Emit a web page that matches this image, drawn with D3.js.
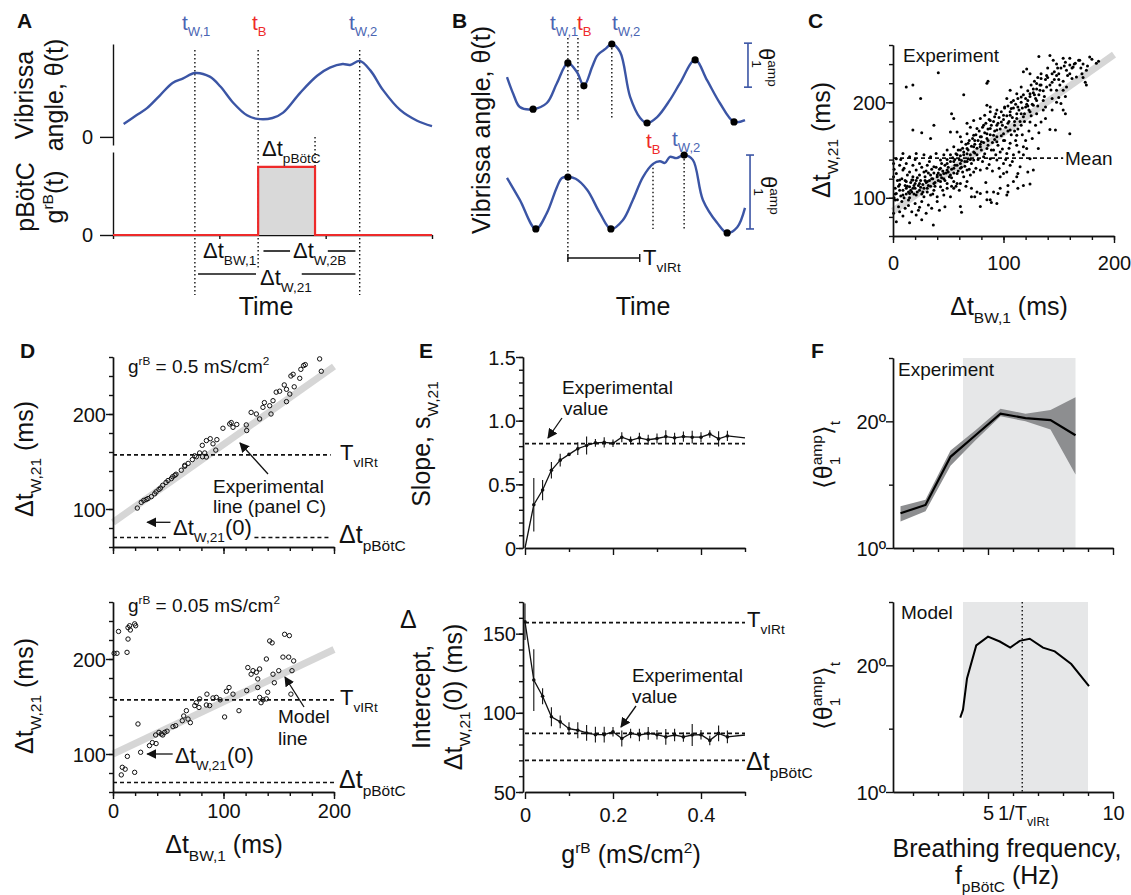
<!DOCTYPE html>
<html>
<head>
<meta charset="utf-8">
<script src="https://cdn.jsdelivr.net/npm/d3@7"></script>
<style>
  body { margin: 0; background: #fff; }
  svg { display: block; }
  text { font-family: "Liberation Sans", Arial, Helvetica, sans-serif; }
</style>
</head>
<body>
<div id="art"></div>
<script>
// ---------- data ----------
// panel A: schematic whisk trace (time ms, angle deg) and pBotC pulse
const traceA = [[10,1.44],[22,2.4],[32,3.2],[44,4.6],[56,6.0],[66,6.5],[77,7.1],[91,6.7],[101,5.6],[113,3.8],[126,2.4],[136,2.0],[150,2.1],[160,2.7],[176,4.9],[192,6.8],[204,7.7],[216,8.1],[223,8.0],[232,8.45],[242,7.4],[254,5.2],[270,3.0],[286,1.8],[300,1.2]];
const marksA = { tW1: 77, tB: 136.5, tEnd: 190, tW2: 232 };
const pulseA = [[0,0],[136.5,0],[136.5,1],[190,1],[190,0],[300,0]];

// panel B: two traces (time ms, angle deg, peak/trough flag)
const traceBTop = [[0,10.9,0],[14,7,0],[28,4.1,0],[57,3.6,1],[87,5.0,0],[109,9.5,0],[133,14.1,1],[153,12.0,0],[168,8.9,1],[186,13.2,0],[196,15.6,0],[203,16.4,0],[215,17.3,0],[229,18.4,1],[247,16.6,0],[269,6.4,0],[291,1.6,0],[306,0.45,1],[328,1.8,0],[356,5.7,0],[378,9.5,0],[411,14.8,1],[437,10.2,0],[465,5.0,0],[496,0.7,1],[520,1.1,0]];
const traceBBot = [[0,13.2,0],[28,8.2,0],[63,1.6,1],[87,5.2,0],[109,11.1,0],[120,13.2,0],[133,13.4,1],[150,13.0,0],[175,10.5,0],[203,5.2,0],[227,1.6,1],[253,3.6,0],[275,8.2,0],[297,13.4,0],[319,16.4,0],[334,17.0,0],[345,16.6,0],[356,18.0,0],[370,17.7,0],[387,18.4,1],[406,17.3,0],[428,8.2,0],[459,3.0,0],[481,0.7,1],[503,2.0,0],[520,6.4,0]];
const marksB = { tW1: 133, tB1: 155, tW2a: 229, tB2: 319, tW2b: 387, TvIRt: 157 };

// panel C: experimental scatter (dt_BW,1 ms, dt_W,21 ms)
const cScatter = [
[12,216],[18,218],[41,231],[25,204],[64,208],[85,220],[86,222],[18,171],[26,168],[34,162],[37,176],[53,188],[55,183],
[36.5,71.5],[15,74],[26,77],[3,75],[9,81],[62,85],[61,91],[71,101],[74,101],[85,98],[94,94],[95,104.6],[103,103],[113,110],[112,122],[122,127],[104,113],[76,106],[79,91],[88,98],[89,95],[97,122],[100,125.5],[115,132.5],[121,151.6],[131.5,151.6],[154,192],[156,188],[160,167],[147,171],[142,171.5],[152,198.7],[138,183],[136,192],
[132,248],[142,249],[154,246],[178,247.5],[169,244],[184,241],[160,239],[163,237],[157,233.6],[149,236],[175,233.6],[171,230],[166,226.5],[174,221],[175,218],[148,228],[139,228],[134,225],[124,230],[121,235],[118,232],[130,219.6],[144,221],[151,218],[157,216],[154,212.6],[148,212.6],[139,216],[133,212.6],[127,214],[124,209],[116,216],[112,209],[106,212.6],[103,204],[109,202],[116,205.6],[122,202],[130,202],[136,202],[144,204],[148,200],[127,197],[120,195],[113,195],[107,193.5],[101,195],[94,192],[88,195],[88,190],[85,197],[92,185],[100,186.5],[106,186.5],[112,183],[118,185],[124,190],[130,188],[134,179.5],[124,179.5],[116,176],[110,176],[104,178],[98,179.5],[94,176],[88,181],[83,186.5],[79,183],[73,181],[67,178],[70,174],[76,172.6],[82,176],[88,172.6],[94,171],[100,167],[106,171],[112,165.6],[91,165.6],[85,167],[79,164],[73,165.6],[67,167],[61,164],[58,169],[52,169],[62,158.6],[68,157],[74,160],[80,158.6],[86,160],[94,158.6],[100,160],[106,157],[112,155],[118,153.5],[73,153.5],[79,153.5],[85,151.6],[91,150],[97,148],[103,146.5],[109,145],[67,151.6],[61,150],[55,153.5],[49,150],[46,145],[52,145],[58,145],[64,145],[70,145],[76,145],[82,143],[88,141],[94,139.5],[100,136],[106,134],[73,139.5],[67,138],[61,136],[55,138],[49,136],[43,139.5],[39,146.5],[34,143],[28,145],[21,146.5],[15,143],[9,146.5],[3,141],[0.5,136],[6,134],[12,136],[18,134],[24,136],[31,134],[37,132.5],[43,131],[49,129],[55,131],[61,131],[67,129],[73,127],[79,129],[85,131],[46,125.5],[52,124],[58,125.5],[64,122],[70,124],[40,122],[34,124],[28,127],[21,129],[15,127],[9,129],[3,125.5],[0.5,122],[6,118.6],[12,117],[18,118.6],[24,115],[31,117],[37,115],[43,117],[49,115],[55,117],[61,115],[67,117],[43,111.6],[49,110],[55,110],[58,115],[37,108],[31,110],[24,108],[18,110],[12,110],[6,108],[2,110],[3,104.6],[9,103],[15,104.6],[21,103],[28,101],[34,103],[40,101],[46,103],[52,101],[15,111.6],[14,106],[11,113],[20,115],[17,118.6],[2,97.6],[8,96],[14,97.6],[20,94],[26,96],[32,92.4],[5,90.7],[11,89],[17,85.5],[23,87],[0.5,83.7],[6,85.5],[35,89],[42,87],[47,90.7],[30,83.7],[21,82],
[118,145],[124,141],[113,125.5],[103,127],[109,117],[118,113],[104,106],[97,110],[91,106],[85,106],[79,104.6],[71,110],[124,114.5],[127,129],
[5,112],[8,120],[10,100],[13,124],[16,108],[19,113],[22,121],[25,111],[27,106],[29,118],[32,113],[35,120],[38,112],[41,126],[44,121],[47,118],[50,127],[53,121],[56,134],[59,128],[62,139],[65,133],[68,141],[71,136],[74,147],[77,140],[80,150],[83,146],[86,155],[89,150],[92,161],[95,155],[98,165],[101,160],[104,170],[107,166],[110,180],[113,172],[116,188],[119,180],[122,196],[125,186],[128,208],[131,196],[134,218],[137,206],[140,226],[143,213],[146,232],[150,224],[155,238],[160,230],[165,241],[170,236],[30,128],[36,104],[45,108],[57,112],[63,127],[69,130],[75,131],[81,138],[87,135],[93,145],[99,151],[105,152],[111,160],[117,166],[123,170],[129,176],[20,140],[26,132],[33,138],[10,131],[7,140],[4,118],[1,100],[1,130],[14,92],[24,90],[40,96],[53,112],[60,108],[66,112],[84,116],[90,128],[96,131],[102,140],[108,138],[114,148],[120,160],[126,162],[132,168],[138,195],[144,192],[150,205],[156,206],[162,225],[145,244],[172,226],[180,245],[186,243],
[2,104],[4,98],[6,114],[7,102],[9,108],[11,118],[12,104],[13,112],[15,100],[16,116],[17,106],[18,122],[19,104],[20,110],[21,118],[22,106],[23,113],[24,124],[25,118],[26,104],[27,114],[28,110],[29,122],[30,116],[31,106],[32,126],[33,118],[34,112],[35,130],[36,120],[37,126],[38,116],[39,132],[40,124],[41,118],[42,130],[43,124],[44,136],[45,128],[46,120],[47,134],[48,126],[49,140],[50,132],[51,122],[52,138],[53,130],[54,142],[55,126],[56,140],[57,146],[58,134],[59,150],[60,140],[61,144],[62,132],[63,152],[64,148],[65,138],[66,156],[67,146],[68,150],[69,160],[70,140],[71,154],[72,162],[73,148],[74,156],[75,166],[76,152],[77,160],[78,170],[79,156],[80,164],[81,174],[82,158],[83,168],[84,178],[85,162],[86,172],[87,182],[88,166],[89,176],[90,158],[91,180],[92,170],[93,188],[94,164],[95,178],[96,184],[97,172],[98,190],[99,176],[100,182],[101,194],[102,174],[103,186],[104,196],[105,180],[106,190],[107,200],[108,184],[109,194],[110,170],[111,198],[112,188],[113,204],[114,192],[115,180],[116,200],[117,194],[118,208],[119,188],[120,204],[121,198],[122,212],[123,192],[124,206],[125,218],[126,198],[127,210],[128,222],[129,204],[130,214],[131,226],[132,208],[133,218],[134,230],[136,212],[138,224],[140,236],[142,218],[144,230],[146,224],[148,240],[150,230],[152,236],[154,222],[156,242],[158,228],[160,246],[162,236],[164,240],[168,244],[172,240],[176,238]
];
const expLine = { intercept: 86, slope: 0.82 };
const meanC = 141.5;

// panel D: model scatter for two grB values
const dTop = [[22,101],[25.6,107],[27.8,109],[31.7,111],[34.7,113],[37.7,116],[41.6,120.6],[45,125],[48,128],[52.8,132],[57,136.6],[61.8,140.8],[64.9,145],[68,148],[71.8,152],[75.4,155],[78.4,159],[81,155],[84.5,154.7],[80.8,167],[84.5,172],[88,174],[94,173],[93,162],[99.5,185],[105.6,189.5],[108.6,186],[112,189],[120.6,188.5],[121,182.6],[125,201.7],[129.7,200],[132.7,194.8],[135.7,207],[137,212],[141.8,208.7],[143,200],[144.8,214],[147.7,223],[150.8,224],[155,230.6],[157,213],[157,226],[161,240],[163,241.8],[164,228.6],[169,237.6],[170,247],[172.5,251],[174,252],[187,258],[188.5,245],[54,134],[49.8,130],[30,110],[39,118],[43,122],[56,135.5],[65,146],[73.9,156],[83,159],[90.5,168.6],[107,191],[160,221]];
const dBot = [[1,206],[3.6,206],[5,229],[12.7,207],[13.6,233],[13.6,221],[15,235],[15.7,230.5],[19.6,237],[20.5,235],[7.5,78],[8.4,86],[11,84],[13,97.5],[19.6,80.7],[22.6,131.6],[25,101.8],[33,108.8],[35.6,112],[39,111],[38.6,120],[41.6,122.8],[43.7,121],[45,120],[46.8,122.8],[48.9,124],[54.3,128.8],[56.7,129.8],[62.7,135],[64,140],[66.4,145.6],[67.9,136.8],[70,133],[74,151],[75.4,154],[77.8,149],[78.4,158],[84.5,151.6],[85,163],[87.5,151],[90.5,159],[93.5,159.6],[97,157],[101,139],[102.6,166],[105,170],[108.6,163],[114,145.6],[121,166.7],[122,191],[125,184],[126.7,187.7],[129.7,186],[131,179],[131,170],[132.7,189.5],[132.7,159.6],[134,154],[135.7,157],[138.8,158],[138.8,200],[140,165],[141.8,219],[144,217],[144.8,184],[146,175],[150,187.7],[153.8,202],[155.3,226],[159,202],[159.6,224.6],[161,163],[162,187.7],[163.5,198]];
const modelLine = { intercept: 100, slope: 0.55 };
const TvIRt = 157, dtPBotC = 70;

// panel E: slope and intercept vs grB
const gVals = [0,0.02,0.04,0.06,0.08,0.10,0.12,0.14,0.16,0.18,0.20,0.22,0.24,0.26,0.28,0.30,0.32,0.34,0.36,0.38,0.40,0.42,0.44,0.46,0.50];
const slope = [0,0.34,0.455,0.61,0.69,0.735,0.78,0.805,0.826,0.83,0.823,0.87,0.845,0.865,0.85,0.86,0.875,0.865,0.875,0.87,0.87,0.895,0.857,0.88,0.865];
const slopeErr = [0,0.21,0.08,0.065,0.05,0.01,0.05,0.07,0.03,0.04,0.03,0.04,0.03,0.04,0.04,0.04,0.05,0.04,0.04,0.05,0.04,0.03,0.06,0.04,0];
const intercept = [157.5,120.7,110.5,97.5,94.3,90,89,87.3,86.2,86.2,88,83.8,87,86,87,86.2,84.8,86,84.8,86,86.2,82.6,87,84.8,86];
const interceptErr = [11.5,19.5,5,6,4,4,5,5,5,5,3,5,3,4,4,3,5,4,3,7,3,3,5,4,0];
const expSlope = 0.82, expIntercept = 87;

// panel F: amplitude vs breathing frequency
const fExp = [1.5,2.5,3.5,4.5,5.5,6.5,7.5,8.5];
const ampExp = [12.74,13.4,17.2,18.9,20.6,20.26,20.1,18.9];
const ampExpLo = [12.1,12.9,16.5,18.5,20.4,20.0,19.35,15.8];
const ampExpHi = [13.3,13.8,17.7,19.3,21.0,20.6,20.9,21.9];
const fMod = [3.89,4.0,4.16,4.53,5.0,5.47,5.89,6.27,6.67,7.2,7.67,8.33,9.04];
const ampMod = [15.87,16.5,18.96,21.57,22.27,21.88,21.4,21.93,22.1,21.4,21.1,20.1,18.36];
const bandExp = [4, 8.5], bandMod = [4, 9.0];

// ---------- style ----------
const BLUE = '#3b55a5', BLUE_T = '#4a65b3', RED = '#ee2a2a';
const TICK = 20, LAB = 25, ANN = 19;

const svg = d3.select('#art').append('svg')
  .attr('width', 1131).attr('height', 895)
  .style('background', '#fff');

svg.append('defs').append('marker')
  .attr('id', 'arr').attr('viewBox', '0 0 10 10')
  .attr('refX', 9).attr('refY', 5)
  .attr('markerWidth', 10).attr('markerHeight', 10)
  .attr('markerUnits', 'userSpaceOnUse')
  .attr('orient', 'auto')
  .append('path').attr('d', 'M0,0 L10,5 L0,10 z').attr('fill', '#111');

// text with sub/superscripts; "_x" sub, "^x" sup, "&" prefix stacks over previous piece
function rich(g, x, y, parts, o = {}) {
  const size = o.size || ANN;
  const t = g.append('text')
    .attr('transform', `translate(${x},${y})` + (o.rotate ? ` rotate(${o.rotate})` : ''))
    .attr('text-anchor', o.anchor || 'start')
    .style('font-size', size + 'px')
    .style('fill', o.fill || '#111');
  if (o.bold) t.style('font-weight', 'bold');
  let shift = 0, prev = null;
  parts.forEach(p => {
    let stack = false;
    if (p[0] === '&') { stack = true; p = p.slice(1); }
    let s = 0, fs = size, txt = p;
    if (p[0] === '_') { txt = p.slice(1); s = size * 0.3; fs = size * 0.62; }
    else if (p[0] === '^') { txt = p.slice(1); s = -size * 0.42; fs = size * 0.62; }
    const ts = t.append('tspan').attr('dy', s - shift).style('font-size', fs + 'px').text(txt);
    if (stack && prev) ts.attr('dx', -prev.node().getComputedTextLength());
    shift = s; prev = ts;
  });
  return t;
}

function styleAxis(a, size) {
  a.style('font-size', size + 'px');
  a.selectAll('path,line').attr('stroke', '#111').attr('stroke-width', 1.4);
  a.selectAll('text').attr('fill', '#111');
}

function yAxis(g, y, x0, major, minor, fmt) {
  const a1 = g.append('g').attr('transform', `translate(${x0},0)`)
    .call(d3.axisLeft(y).tickValues(minor).tickSize(4).tickFormat('').tickSizeOuter(0));
  styleAxis(a1, TICK);
  const a2 = g.append('g').attr('transform', `translate(${x0},0)`)
    .call(d3.axisLeft(y).tickValues(major).tickSize(7).tickPadding(0).tickFormat(fmt).tickSizeOuter(0));
  styleAxis(a2, TICK);
  a2.selectAll('text').attr('dy', '0.35em');
}

function xAxis(g, x, y0, major, minor, fmt, baseOff) {
  const a1 = g.append('g').attr('transform', `translate(0,${y0})`)
    .call(d3.axisBottom(x).tickValues(minor).tickSize(4).tickFormat('').tickSizeOuter(0));
  styleAxis(a1, TICK);
  const pad = baseOff ? baseOff - 7 - 0.71 * TICK : 3;
  const a2 = g.append('g').attr('transform', `translate(0,${y0})`)
    .call(d3.axisBottom(x).tickValues(major).tickSize(7).tickPadding(pad).tickFormat(fmt).tickSizeOuter(0));
  styleAxis(a2, TICK);
}

function dashed(g, x1, x2, y1, y2, dash) {
  g.append('line').attr('x1', x1).attr('x2', x2).attr('y1', y1).attr('y2', y2)
    .attr('stroke', '#111').attr('stroke-width', dash === 'dot' ? 1.4 : 1.6)
    .attr('stroke-dasharray', dash === 'dot' ? '1.5,2.5' : '4,3');
}

function arrow(g, x1, y1, x2, y2) {
  g.append('line').attr('x1', x1).attr('y1', y1).attr('x2', x2).attr('y2', y2)
    .attr('stroke', '#111').attr('stroke-width', 1.3).attr('marker-end', 'url(#arr)');
}

function panelLetter(x, y, s) {
  rich(svg, x, y, [s], { size: 21, bold: true });
}

const none = () => '';

// ================= Panel A =================
{
  const g = svg.append('g');
  const x = d3.scaleLinear().domain([0, 300]).range([113, 432]);
  const y = d3.scaleLinear().domain([-0.9, 10.33]).range([145, 44]);
  const yg = d3.scaleLinear().domain([0, 1.22]).range([235, 152]);

  // guides
  dashed(g, x(marksA.tW1), x(marksA.tW1), 50, 295, 'dot');
  dashed(g, x(marksA.tB), x(marksA.tB), 50, 268, 'dot');
  dashed(g, x(marksA.tEnd), x(marksA.tEnd), 137, yg(1), 'dot');
  dashed(g, x(marksA.tW2), x(marksA.tW2), 50, 295, 'dot');

  // axes
  const ay = g.append('g').attr('transform', 'translate(113,0)')
    .call(d3.axisLeft(y).tickValues([0]).tickSize(13).tickPadding(7).tickFormat(d => d).tickSizeOuter(0));
  styleAxis(ay, TICK);
  const ag = g.append('g').attr('transform', 'translate(113,0)')
    .call(d3.axisLeft(yg).tickValues([0]).tickSize(13).tickPadding(7).tickFormat(d => d).tickSizeOuter(0));
  styleAxis(ag, TICK);
  const ax = g.append('g').attr('transform', 'translate(0,235)')
    .call(d3.axisBottom(x).tickValues([0, 100, 200, 300]).tickSize(4).tickFormat('').tickSizeOuter(0));
  styleAxis(ax, TICK);

  g.append('path').datum(traceA)
    .attr('d', d3.line().x(d => x(d[0])).y(d => y(d[1])).curve(d3.curveCatmullRom))
    .attr('fill', 'none').attr('stroke', BLUE).attr('stroke-width', 2.4);

  g.append('rect').attr('x', x(marksA.tB)).attr('y', yg(1))
    .attr('width', x(marksA.tEnd) - x(marksA.tB)).attr('height', yg(0) - yg(1))
    .attr('fill', '#d9d9d9');
  g.append('path').datum(pulseA)
    .attr('d', d3.line().x(d => x(d[0])).y(d => yg(d[1])))
    .attr('fill', 'none').attr('stroke', RED).attr('stroke-width', 2.2);

  // interval bars
  const hl = (a, b, yy) => g.append('line').attr('x1', x(a)).attr('x2', x(b)).attr('y1', yy).attr('y2', yy)
    .attr('stroke', '#111').attr('stroke-width', 1.6);
  hl(marksA.tB + 5, marksA.tB + 30, 251);
  hl(marksA.tW2 - 30, marksA.tW2 - 4, 251);
  hl(marksA.tW1 + 3, marksA.tB - 2, 274);
  hl(marksA.tB + 41, marksA.tW2 - 4, 274);

  rich(g, 182, 30, ['t', '_W,1'], { fill: BLUE_T, size: 21 });
  rich(g, 252, 30, ['t', '_B'], { fill: RED, size: 21 });
  rich(g, 349, 30, ['t', '_W,2'], { fill: BLUE_T, size: 21 });
  rich(g, 262, 156, ['Δt', '_pBötC'], { size: 22 });
  rich(g, 203, 258, ['Δt', '_BW,1'], { size: 22 });
  rich(g, 293, 258, ['Δt', '_W,2B'], { size: 22 });
  rich(g, 260, 285, ['Δt', '_W,21'], { size: 22 });
  rich(g, 266, 315, ['Time'], { size: LAB, anchor: 'middle' });

  rich(g, 33, 95, ['Vibrissa'], { size: LAB, anchor: 'middle', rotate: -90 });
  rich(g, 63, 95, ['angle, θ(t)'], { size: LAB, anchor: 'middle', rotate: -90 });
  rich(g, 34, 197, ['pBötC'], { size: LAB, anchor: 'middle', rotate: -90 });
  rich(g, 63, 197, ['g', '^rB', '(t)'], { size: LAB, anchor: 'middle', rotate: -90 });
  panelLetter(17, 28, 'A');
}

// ================= Panel B =================
{
  const g = svg.append('g');
  const x = d3.scaleLinear().domain([0, 520]).range([507, 745]);
  const y1 = d3.scaleLinear().domain([0, 20]).range([125, 37]);
  const y2 = d3.scaleLinear().domain([0, 20]).range([236, 148]);

  dashed(g, x(marksB.tW1), x(marksB.tW1), 38, 260, 'dot');
  dashed(g, x(marksB.tB1), x(marksB.tB1), 38, y1(1.2), 'dot');
  dashed(g, x(marksB.tW2a), x(marksB.tW2a), y1(18.4), y1(1.6), 'dot');
  dashed(g, x(marksB.tB2), x(marksB.tB2), y2(16.4), y2(1.6), 'dot');
  dashed(g, x(marksB.tW2b), x(marksB.tW2b), y2(18.4), y2(1.6), 'dot');

  [[traceBTop, y1], [traceBBot, y2]].forEach(([tr, yy]) => {
    g.append('path').datum(tr)
      .attr('d', d3.line().x(d => x(d[0])).y(d => yy(d[1])).curve(d3.curveCatmullRom))
      .attr('fill', 'none').attr('stroke', BLUE).attr('stroke-width', 2.4);
    g.selectAll(null).data(tr.filter(d => d[2])).enter().append('circle')
      .attr('cx', d => x(d[0])).attr('cy', d => yy(d[1])).attr('r', 3.6).attr('fill', '#000');
  });

  // T_vIRt bar
  const bx1 = x(marksB.tW1), bx2 = x(marksB.tW1 + marksB.TvIRt);
  g.append('line').attr('x1', bx1).attr('x2', bx2).attr('y1', 258).attr('y2', 258).attr('stroke', '#111').attr('stroke-width', 1.6);
  [bx1, bx2].forEach(v => g.append('line').attr('x1', v).attr('x2', v).attr('y1', 254).attr('y2', 262).attr('stroke', '#111').attr('stroke-width', 1.4));
  rich(g, 643, 265, ['T', '_vIRt'], { size: 22 });

  // amplitude bars
  const ampBar = (xx, yy, a, b) => {
    g.append('line').attr('x1', xx).attr('x2', xx).attr('y1', yy(a)).attr('y2', yy(b)).attr('stroke', BLUE).attr('stroke-width', 1.6);
    [a, b].forEach(v => g.append('line').attr('x1', xx - 4).attr('x2', xx + 4).attr('y1', yy(v)).attr('y2', yy(v)).attr('stroke', BLUE).attr('stroke-width', 1.6));
  };
  ampBar(x(526.5), y1, 8.6, 18.6);
  ampBar(x(531), y2, 1.6, 18.4);
  rich(g, 759, 48, ['θ', '_1', '&^amp'], { size: 22, rotate: 90 });
  rich(g, 761, 176, ['θ', '_1', '&^amp'], { size: 22, rotate: 90 });

  rich(g, 550, 30, ['t', '_W,1'], { fill: BLUE_T, size: 21 });
  rich(g, 577, 30, ['t', '_B'], { fill: RED, size: 21 });
  rich(g, 612, 30, ['t', '_W,2'], { fill: BLUE_T, size: 21 });
  rich(g, 646, 148, ['t', '_B'], { fill: RED, size: 21 });
  rich(g, 672, 146, ['t', '_W,2'], { fill: BLUE_T, size: 21 });

  rich(g, 643, 315, ['Time'], { size: LAB, anchor: 'middle' });
  rich(g, 490, 130, ['Vibrissa angle, θ(t)'], { size: LAB, anchor: 'middle', rotate: -90 });
  panelLetter(452, 28, 'B');
}

// ================= Panel C =================
{
  const g = svg.append('g');
  const x = d3.scaleLinear().domain([0, 200]).range([893, 1114]);
  const y = d3.scaleLinear().domain([60, 260]).range([236, 45]);

  g.append('line').attr('x1', x(0)).attr('x2', x(200))
    .attr('y1', y(expLine.intercept)).attr('y2', y(expLine.intercept + expLine.slope * 200))
    .attr('stroke', '#d6d6d6').attr('stroke-width', 7);
  dashed(g, x(0), x(154), y(meanC), y(meanC));
  g.selectAll(null).data(cScatter).enter().append('circle')
    .attr('cx', d => x(d[0])).attr('cy', d => y(d[1])).attr('r', 1.5).attr('fill', '#000');

  yAxis(g, y, 893, [100, 200], d3.range(60, 261, 20), d => d);
  xAxis(g, x, 236, [0, 100, 200], d3.range(0, 201, 20), d => d, 34);

  rich(g, 903, 62, ['Experiment'], { size: ANN });
  rich(g, 1065, 165, ['Mean'], { size: ANN });
  rich(g, 830, 140, ['Δt', '_W,21', ' (ms)'], { size: LAB, anchor: 'middle', rotate: -90 });
  rich(g, 1009, 315, ['Δt', '_BW,1', ' (ms)'], { size: LAB, anchor: 'middle' });
  panelLetter(808, 28, 'C');
}

// ================= Panel D =================
{
  const g = svg.append('g');
  const x = d3.scaleLinear().domain([0, 200]).range([113, 334]);
  const yT = d3.scaleLinear().domain([60, 260]).range([547, 357]);
  const yB = d3.scaleLinear().domain([60, 260]).range([792, 602]);

  // top
  g.append('line').attr('x1', x(0)).attr('x2', x(200))
    .attr('y1', yT(expLine.intercept)).attr('y2', yT(expLine.intercept + expLine.slope * 200))
    .attr('stroke', '#d6d6d6').attr('stroke-width', 7);
  dashed(g, x(0), x(197), yT(TvIRt), yT(TvIRt));
  dashed(g, x(0), x(50), yT(dtPBotC), yT(dtPBotC));
  dashed(g, x(128), x(197), yT(dtPBotC), yT(dtPBotC));
  g.selectAll(null).data(dTop).enter().append('circle')
    .attr('cx', d => x(d[0])).attr('cy', d => yT(d[1])).attr('r', 2.2)
    .attr('fill', 'none').attr('stroke', '#111').attr('stroke-width', 1);
  yAxis(g, yT, 113, [100, 200], d3.range(60, 261, 20), d => d);
  xAxis(g, x, 547, [0, 100, 200], d3.range(0, 201, 20), none);

  rich(g, 128, 373, ['g', '^rB', ' = 0.5 mS/cm', '^2'], { size: ANN });
  rich(g, 340, 460, ['T', '_vIRt'], { size: 22 });
  rich(g, 339, 543, ['Δt', '_pBötC'], { size: LAB });
  arrow(g, x(52), yT(expLine.intercept), x(31), yT(expLine.intercept));
  rich(g, 173, 535, ['Δt', '_W,21', '(0)'], { size: 22 });
  rich(g, 213, 493, ['Experimental'], { size: ANN });
  rich(g, 213, 513, ['line (panel C)'], { size: ANN });
  arrow(g, 268, 474, 240, 443);
  rich(g, 33, 459, ['Δt', '_W,21', ' (ms)'], { size: LAB, anchor: 'middle', rotate: -90 });

  // bottom
  g.append('line').attr('x1', x(0)).attr('x2', x(200))
    .attr('y1', yB(modelLine.intercept)).attr('y2', yB(modelLine.intercept + modelLine.slope * 200))
    .attr('stroke', '#d6d6d6').attr('stroke-width', 7);
  dashed(g, x(0), x(200), yB(TvIRt), yB(TvIRt));
  dashed(g, x(0), x(200), yB(dtPBotC), yB(dtPBotC));
  g.selectAll(null).data(dBot).enter().append('circle')
    .attr('cx', d => x(d[0])).attr('cy', d => yB(d[1])).attr('r', 2.2)
    .attr('fill', 'none').attr('stroke', '#111').attr('stroke-width', 1);
  yAxis(g, yB, 113, [100, 200], d3.range(60, 261, 20), d => d);
  xAxis(g, x, 792, [0, 100, 200], d3.range(0, 201, 20), d => d, 26);

  rich(g, 128, 612, ['g', '^rB', ' = 0.05 mS/cm', '^2'], { size: ANN });
  rich(g, 340, 705, ['T', '_vIRt'], { size: 22 });
  rich(g, 339, 788, ['Δt', '_pBötC'], { size: LAB });
  arrow(g, x(54), yB(modelLine.intercept), x(31), yB(modelLine.intercept));
  rich(g, 175, 763, ['Δt', '_W,21', '(0)'], { size: 22 });
  rich(g, 278, 723, ['Model'], { size: ANN });
  rich(g, 278, 745, ['line'], { size: ANN });
  arrow(g, 304, 707, 285, 677);
  rich(g, 33, 696, ['Δt', '_W,21', ' (ms)'], { size: LAB, anchor: 'middle', rotate: -90 });
  rich(g, 224, 853, ['Δt', '_BW,1', ' (ms)'], { size: LAB, anchor: 'middle' });
  panelLetter(20, 358, 'D');
}

// ================= Panel E =================
{
  const g = svg.append('g');
  const x = d3.scaleLinear().domain([0, 0.5]).range([525, 745]);
  const yT = d3.scaleLinear().domain([0, 1.5]).range([548, 357]);
  const yB = d3.scaleLinear().domain([50, 170]).range([792, 602]);

  const series = (yy, vals, errs) => {
    const pts = gVals.map((gv, i) => ({ g: gv, v: vals[i], e: errs[i] }));
    g.selectAll(null).data(pts.filter(d => d.e > 0)).enter().append('line')
      .attr('x1', d => x(d.g)).attr('x2', d => x(d.g))
      .attr('y1', d => yy(d.v - d.e)).attr('y2', d => yy(d.v + d.e))
      .attr('stroke', '#111').attr('stroke-width', 1.1);
    g.append('path').datum(pts)
      .attr('d', d3.line().x(d => x(d.g)).y(d => yy(d.v)))
      .attr('fill', 'none').attr('stroke', '#111').attr('stroke-width', 1.3);
    g.selectAll(null).data(pts.filter(d => d.e > 0)).enter().append('circle')
      .attr('cx', d => x(d.g)).attr('cy', d => yy(d.v)).attr('r', 1.8).attr('fill', '#111');
  };

  // top: slope
  dashed(g, x(0), x(0.5), yT(expSlope), yT(expSlope));
  series(yT, slope, slopeErr);
  yAxis(g, yT, 523, [0, 0.5, 1.0, 1.5], d3.range(0, 1.51, 0.1), d => d === 0 ? '0' : d3.format('.1f')(d));
  xAxis(g, x, 548, [0, 0.2, 0.4], [0.1, 0.3, 0.5], none);
  rich(g, 562, 394, ['Experimental'], { size: ANN });
  rich(g, 563, 415, ['value'], { size: ANN });
  arrow(g, 562, 418, 548, 438);
  rich(g, 430, 444, ['Slope, s', '_W,21'], { size: LAB, anchor: 'middle', rotate: -90 });

  // bottom: intercept
  dashed(g, x(0), x(0.5), yB(TvIRt), yB(TvIRt));
  dashed(g, x(0), x(0.5), yB(expIntercept), yB(expIntercept));
  dashed(g, x(0), x(0.5), yB(dtPBotC), yB(dtPBotC));
  series(yB, intercept, interceptErr);
  yAxis(g, yB, 523, [50, 100, 150], d3.range(50, 171, 10), d => d);
  xAxis(g, x, 792, [0, 0.2, 0.4], [0.1, 0.3, 0.5], d => d === 0 ? '0' : d3.format('.1f')(d), 30);
  rich(g, 747, 627, ['T', '_vIRt'], { size: 22 });
  rich(g, 746, 770, ['Δt', '_pBötC'], { size: LAB });
  rich(g, 632, 682, ['Experimental'], { size: ANN });
  rich(g, 632, 703, ['value'], { size: ANN });
  arrow(g, 636, 706, 621, 727);
  rich(g, 400, 628, ['Δ'], { size: LAB });
  rich(g, 430, 697, ['Intercept,'], { size: LAB, anchor: 'middle', rotate: -90 });
  rich(g, 462, 697, ['Δt', '_W,21', '(0) (ms)'], { size: LAB, anchor: 'middle', rotate: -90 });
  rich(g, 631, 863, ['g', '^rB', ' (mS/cm', '^2', ')'], { size: LAB, anchor: 'middle' });
  panelLetter(419, 358, 'E');
}

// ================= Panel F =================
{
  const g = svg.append('g');
  const x = d3.scaleLinear().domain([1.2, 10]).range([893, 1113]);
  const yT = d3.scaleLinear().domain([10, 25]).range([548, 358]);
  const yB = d3.scaleLinear().domain([10, 25]).range([792, 602]);
  const degFmt = d => d + 'º';

  // top: experiment
  g.append('rect').attr('x', x(bandExp[0])).attr('y', yT(25))
    .attr('width', x(bandExp[1]) - x(bandExp[0])).attr('height', yT(10) - yT(25))
    .attr('fill', '#e6e7e8');
  const expPts = fExp.map((f, i) => ({ f, m: ampExp[i], lo: ampExpLo[i], hi: ampExpHi[i] }));
  g.append('path').datum(expPts)
    .attr('d', d3.area().x(d => x(d.f)).y0(d => yT(d.lo)).y1(d => yT(d.hi)))
    .attr('fill', '#8d8e90');
  g.append('path').datum(expPts)
    .attr('d', d3.line().x(d => x(d.f)).y(d => yT(d.m)))
    .attr('fill', 'none').attr('stroke', '#000').attr('stroke-width', 2.2);
  yAxis(g, yT, 893, [10, 20], [15, 25], degFmt);
  xAxis(g, x, 548, [5, 10], [2, 3, 4, 6, 7, 8, 9], none);
  rich(g, 898, 376, ['Experiment'], { size: ANN });
  rich(g, 832, 455, ['⟨θ', '_1', '&^amp', '⟩', '_t'], { size: LAB, anchor: 'middle', rotate: -90 });

  // bottom: model
  g.append('rect').attr('x', x(bandMod[0])).attr('y', yB(25))
    .attr('width', x(bandMod[1]) - x(bandMod[0])).attr('height', yB(10) - yB(25))
    .attr('fill', '#e6e7e8');
  const fv = 1000 / TvIRt;
  dashed(g, x(fv), x(fv), yB(25), yB(10), 'dot');
  g.append('path').datum(fMod.map((f, i) => [f, ampMod[i]]))
    .attr('d', d3.line().x(d => x(d[0])).y(d => yB(d[1])))
    .attr('fill', 'none').attr('stroke', '#000').attr('stroke-width', 2);
  yAxis(g, yB, 893, [10, 20], [15, 25], degFmt);
  xAxis(g, x, 792, [5, 10], [2, 3, 4, 6, 7, 8, 9], d => d, 28);
  rich(g, 998, 820, ['1/T', '_vIRt'], { size: TICK });
  rich(g, 901, 619, ['Model'], { size: ANN });
  rich(g, 832, 696, ['⟨θ', '_1', '&^amp', '⟩', '_t'], { size: LAB, anchor: 'middle', rotate: -90 });
  rich(g, 1007, 857, ['Breathing frequency,'], { size: LAB, anchor: 'middle' });
  rich(g, 1007, 884, ['f', '_pBötC', ' (Hz)'], { size: LAB, anchor: 'middle' });
  panelLetter(811, 358, 'F');
}
</script>
</body>
</html>
